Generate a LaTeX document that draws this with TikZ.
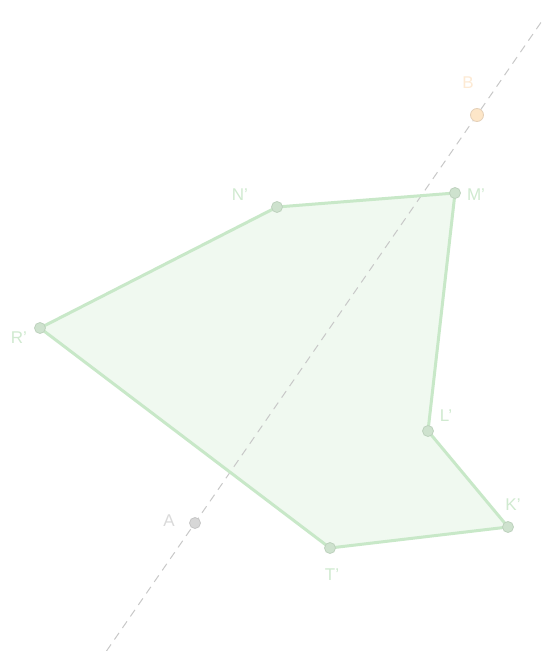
\documentclass[tikz,border=0pt]{standalone}
\usepackage{fontspec}
\setmainfont{Liberation Sans}
\definecolor{polyline}{RGB}{200,232,200}
\definecolor{polyfill}{RGB}{240,249,240}
\definecolor{ptfill}{RGB}{206,226,206}
\definecolor{ptdraw}{RGB}{190,210,190}
\definecolor{lblgreen}{RGB}{208,234,208}
\definecolor{bfill}{RGB}{253,230,200}
\definecolor{bdraw}{RGB}{228,208,185}
\definecolor{blbl}{RGB}{253,234,212}
\definecolor{afill}{RGB}{215,215,215}
\definecolor{adraw}{RGB}{198,198,198}
\definecolor{albl}{RGB}{218,218,218}
\definecolor{dashgray}{RGB}{200,200,200}
\begin{document}
\begin{tikzpicture}[x=1pt,y=-1pt,
  vert/.style={circle,fill=ptfill,draw=ptdraw,line width=0.8pt,inner sep=0pt,minimum size=11pt},
  lbl/.style={text=lblgreen,font=\fontsize{17}{17}\selectfont,inner sep=0pt},
]
\useasboundingbox (0,0) rectangle (543,651);
\fill[white] (0,0) rectangle (543,651);
% polygon
\coordinate (Np) at (277,207);
\coordinate (Mp) at (455,193);
\coordinate (Lp) at (428,431);
\coordinate (Kp) at (508,527);
\coordinate (Tp) at (330,548);
\coordinate (Rp) at (40,328);
\fill[polyfill] (Np) -- (Mp) -- (Lp) -- (Kp) -- (Tp) -- (Rp) -- cycle;
% dashed line through A and B
\coordinate (lineS) at (106.5,651);
\coordinate (lineE) at (543,19.5);
\draw[dashgray,line width=1pt,dash pattern=on 8pt off 6pt] (lineS) -- (lineE);
\draw[polyline,line width=3pt,line join=round]
  (Np) -- (Mp) -- (Lp) -- (Kp) -- (Tp) -- (Rp) -- cycle;
\node[vert] (N) at (Np) {};
\node[vert] (M) at (Mp) {};
\node[vert] (L) at (Lp) {};
\node[vert] (K) at (Kp) {};
\node[vert] (T) at (Tp) {};
\node[vert] (R) at (Rp) {};
\node[circle,fill=afill,draw=adraw,line width=0.8pt,inner sep=0pt,minimum size=11pt] (A) at (195,523) {};
\node[circle,fill=bfill,draw=bdraw,line width=0.8pt,inner sep=0pt,minimum size=13pt] (B) at (477,115) {};
% labels
\node[lbl] (Nl) at (240,195) {N'};
\node[lbl] (Ml) at (476,195) {M'};
\node[lbl] (Rl) at (19,338) {R'};
\node[lbl] (Ll) at (446,416) {L'};
\node[lbl] (Kl) at (513,505) {K'};
\node[lbl] (Tl) at (332,575) {T'};
\node[lbl,text=albl] (Al) at (169,521) {A};
\node[lbl,text=blbl] (Bl) at (468,83) {B};
\end{tikzpicture}
\end{document}
